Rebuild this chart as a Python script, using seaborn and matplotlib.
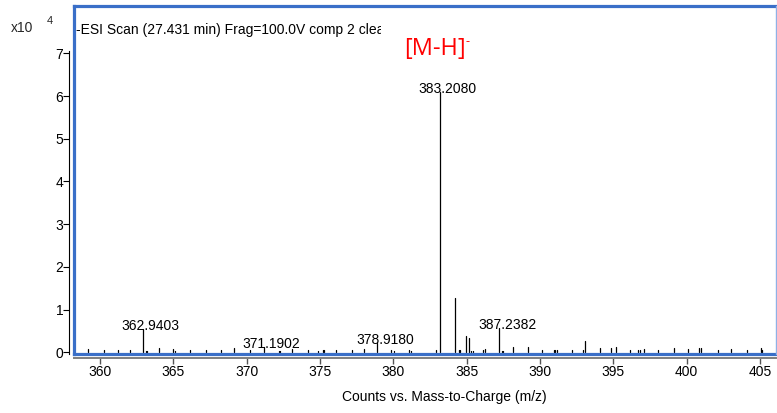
import numpy as np
import pandas as pd
import matplotlib
matplotlib.use("Agg")
import matplotlib.pyplot as plt
import seaborn as sns
from matplotlib.patches import Rectangle

# ---- data ----
mz = [359.16, 360.30, 361.25, 362.07, 362.9403, 363.12, 363.22, 364.02, 365.00, 365.10,
      366.13, 367.20, 368.22, 369.16, 370.22, 371.1902, 372.22, 372.30, 373.11, 374.20,
      374.88, 375.22, 375.30, 376.09, 377.16, 378.02, 378.9180, 379.84, 380.08, 381.09,
      381.18, 382.88, 383.2080, 384.20, 384.48, 384.58, 384.93, 385.15, 385.28, 385.40,
      386.10, 386.22, 387.2382, 387.40, 387.48, 388.18, 389.15, 390.15, 390.98, 391.05,
      391.15, 392.15, 392.90, 393.10, 394.10, 394.82, 395.17, 396.13, 396.70, 396.80,
      397.10, 398.06, 399.13, 400.10, 400.85, 401.00, 402.15, 403.00, 404.08, 405.04,
      405.15]
intensity = [0.08, 0.05, 0.05, 0.05, 0.55, 0.03, 0.03, 0.09, 0.08, 0.04,
             0.05, 0.05, 0.05, 0.10, 0.05, 0.13, 0.04, 0.04, 0.08, 0.05,
             0.03, 0.05, 0.05, 0.05, 0.05, 0.08, 0.22, 0.05, 0.04, 0.05,
             0.04, 0.05, 6.10, 1.27, 0.05, 0.05, 0.37, 0.33, 0.04, 0.03,
             0.05, 0.07, 0.56, 0.03, 0.03, 0.13, 0.13, 0.05, 0.05, 0.05,
             0.05, 0.05, 0.06, 0.26, 0.09, 0.09, 0.13, 0.05, 0.05, 0.05,
             0.08, 0.06, 0.10, 0.07, 0.09, 0.09, 0.05, 0.08, 0.05, 0.09,
             0.05]
label_mz = [362.9403, 371.1902, 378.9180, 383.2080, 387.2382]
label_text = ["362.9403", "371.1902", "378.9180", "383.2080", "387.2382"]
x_ticks = [360, 365, 370, 375, 380, 385, 390, 395, 400, 405]
y_ticks = [0, 1, 2, 3, 4, 5, 6, 7]
title_text = "-ESI Scan (27.431 min) Frag=100.0V comp 2 clea"
xlabel_text = "Counts vs. Mass-to-Charge (m/z)"
ion_text = "[M-H]"

# ---- style ----
sns.set_theme(style="white")
plt.rcParams["font.family"] = ["Liberation Sans", "DejaVu Sans"]

BLUE = "#3a6fc8"

fig = plt.figure(figsize=(7.77, 4.13), dpi=100)
ax = fig.add_axes([74 / 777, 1 - 354 / 413, (776 - 74) / 777, (354 - 6) / 413])

# stick spectrum: each peak is a unit with two points (baseline and top)
rows = []
for i, (m, h) in enumerate(zip(mz, intensity)):
    rows.append({"peak": i, "mz": m, "y": 0.0})
    rows.append({"peak": i, "mz": m, "y": h})
df = pd.DataFrame(rows)
sns.lineplot(data=df, x="mz", y="y", units="peak", estimator=None,
             color="black", lw=0.9, ax=ax, legend=False)

ax.set_xlim(358.23, 406.09)
ax.set_ylim(-0.04, 8.11)
ax.set_xticks(x_ticks)
ax.set_yticks(y_ticks)
ax.set_xticklabels([str(v) for v in x_ticks])
ax.set_yticklabels([str(v) for v in y_ticks])
ax.set_xlabel("")
ax.set_ylabel("")

# spines: black y axis offset outside, gray x axis line below frame
for s in ["top", "right"]:
    ax.spines[s].set_visible(False)
ax.spines["left"].set_position(("outward", 3.3))
ax.spines["left"].set_color("black")
ax.spines["left"].set_linewidth(0.8)
ax.spines["left"].set_bounds(-0.05, 7.05)
ax.spines["bottom"].set_position(("outward", 3.0))
ax.spines["bottom"].set_color("#7f7f7f")
ax.spines["bottom"].set_linewidth(1.4)

ax.tick_params(axis="y", direction="out", length=4.0, width=0.8, color="black",
               pad=0.5, labelsize=10, labelcolor="black", left=True)
ax.tick_params(axis="x", direction="out", length=4.0, width=1.0, color="#555555",
               pad=1.0, labelsize=10, labelcolor="black", bottom=True)

# blue frame
lw_thick = 2.3
ax.plot([0, 0], [0, 1], transform=ax.transAxes, color=BLUE, lw=lw_thick,
        clip_on=False, solid_capstyle="projecting", zorder=5)
ax.plot([0, 1], [1, 1], transform=ax.transAxes, color=BLUE, lw=lw_thick,
        clip_on=False, solid_capstyle="projecting", zorder=5)
ax.plot([0, 1], [0, 0], transform=ax.transAxes, color=BLUE, lw=lw_thick,
        clip_on=False, solid_capstyle="projecting", zorder=5)
ax.plot([1, 1], [0, 1], transform=ax.transAxes, color="#8fb1e6", lw=1.0,
        clip_on=False, zorder=5)

# peak labels
for m, t in zip(label_mz, label_text):
    h = intensity[mz.index(m)]
    ax.annotate(t, xy=(m, h), xytext=(-15.5, -0.6), textcoords="offset points",
                ha="left", va="baseline", fontsize=10, color="black")

# header texts
t = fig.text(76 / 777, 1 - 34 / 413, title_text, ha="left", va="baseline",
             fontsize=10, color="black")
t.set_clip_path(Rectangle((0, 0), 381 / 777, 1, transform=fig.transFigure))
fig.text(11 / 777, 1 - 32 / 413, "x10", ha="left", va="baseline", fontsize=10)
fig.text(47 / 777, 1 - 24 / 413, "4", ha="left", va="baseline", fontsize=8)

fig.text(404 / 777, 1 - 55 / 413, ion_text, ha="left", va="baseline",
         fontsize=17, color="#ff0000", family=["Open Sans", "DejaVu Sans"])
fig.text(466 / 777, 1 - 45 / 413, "-", ha="left", va="baseline",
         fontsize=9, color="#ff0000", family=["Open Sans", "DejaVu Sans"])

fig.text(444 / 777, 1 - 401 / 413, xlabel_text, ha="center", va="baseline",
         fontsize=10, color="black")

fig.savefig("out.png", dpi=100)
